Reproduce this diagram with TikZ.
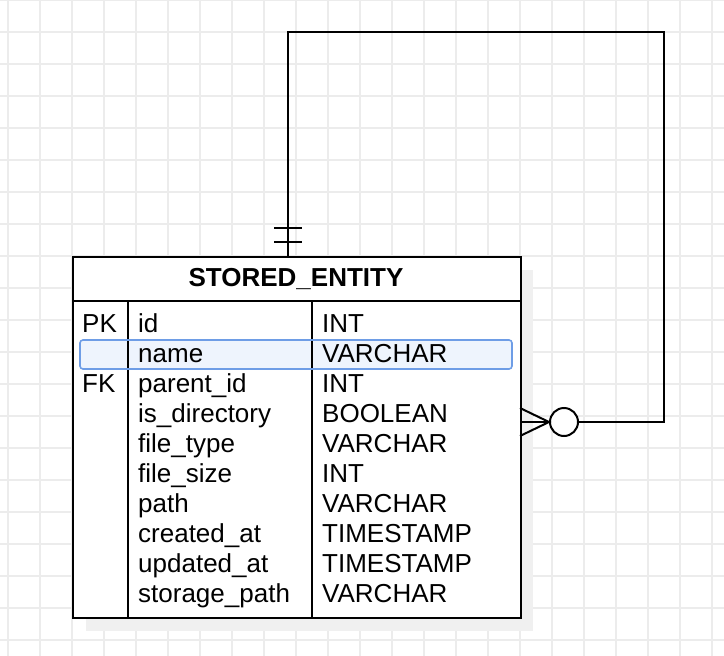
\documentclass[tikz,border=0pt]{standalone}
\usepackage{fontspec}
\setmainfont{Liberation Sans}
\definecolor{gridgray}{HTML}{ECECEC}
\definecolor{shadowgray}{HTML}{F0F0F0}
\definecolor{hlfill}{HTML}{EEF4FD}
\definecolor{hlline}{HTML}{6E9DE6}
\tikzset{
  gridline/.style={draw=gridgray, line width=1.2pt},
  tabline/.style={line width=2pt},
  colline/.style={line width=1.5pt},
  rel/.style={line width=2pt},
  cell/.style={anchor=base west, inner sep=0pt}
}
\begin{document}
\begin{tikzpicture}[x=1pt,y=-1pt,font=\fontsize{26}{30}\selectfont]
\useasboundingbox (0,0) rectangle (724,656);
% background grid
\foreach \gx in {8,40,...,712} \draw[gridline] (\gx,0) -- (\gx,656);
\foreach \gy in {0,32,...,640} \draw[gridline] (0,\gy) -- (724,\gy);

% table
\fill[shadowgray] (86,270) rectangle (533,631);
\node[draw, fill=white, tabline, minimum width=448, minimum height=361, anchor=north west, inner sep=0pt] (entity) at (72,256) {};
\node[anchor=base, font=\fontsize{26}{30}\selectfont\bfseries] (title) at (296,286.7) {STORED\_ENTITY};
\draw[tabline] (72,301) -- (520,301);
\fill[hlfill, rounded corners=3pt] (80,340) rectangle (512,369);
\draw[colline] (128,301) -- (128,617);
\draw[colline] (312,301) -- (312,617);
\draw[hlline, line width=1.6pt, rounded corners=3pt] (80,340) rectangle (512,369);

\foreach \k/\f/\t [count=\i from 0] in {PK/id/INT, {}/name/VARCHAR, FK/parent\_id/INT,
  {}/is\_directory/BOOLEAN, {}/file\_type/VARCHAR, {}/file\_size/INT, {}/path/VARCHAR,
  {}/created\_at/TIMESTAMP, {}/updated\_at/TIMESTAMP, {}/storage\_path/VARCHAR}
{
  \node[cell] (key\i) at (82,332+30*\i) {\k};
  \node[cell] (field\i) at (138,332+30*\i) {\f};
  \node[cell] (type\i) at (322,332+30*\i) {\t};
}

% self relation
\coordinate (top) at (288,256);
\coordinate (c1) at (288,32);
\coordinate (c2) at (664,32);
\node[draw, circle, rel, fill=white, minimum size=28, inner sep=0pt] (opt) at (564,422) {};
\draw[rel] (top) -- (c1) -- (c2) |- (opt.east);
\draw[rel] (274,228) -- (302,228);
\draw[rel] (274,242) -- (302,242);
\coordinate (foot) at (549,422);
\draw[rel] (520,408) -- (foot) -- (520,436);
\draw[rel] (520,422) -- (opt.west);
\end{tikzpicture}
\end{document}
